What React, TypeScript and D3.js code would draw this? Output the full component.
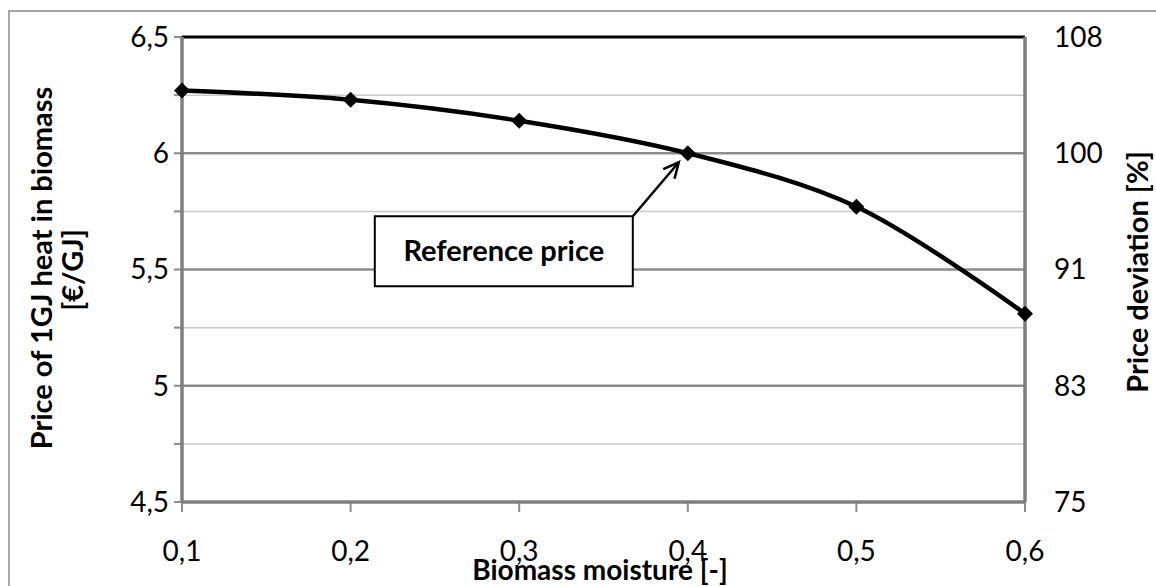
import React from 'react';
import * as d3 from 'd3';

const moisture = [0.1, 0.2, 0.3, 0.4, 0.5, 0.6];
const price = [6.27, 6.23, 6.14, 6.0, 5.77, 5.31];
const leftTicks = [4.5, 5, 5.5, 6, 6.5];
const minorTicks = [4.75, 5.25, 5.75, 6.25];
const rightTickLabels = ['75', '83', '91', '100', '108'];
const xTickLabels = ['0,1', '0,2', '0,3', '0,4', '0,5', '0,6'];

const W = 1156;
const H = 586;
const FONT = 'Lato, "Open Sans", sans-serif';

export default function App() {
  const x = d3.scaleLinear().domain([0.1, 0.6]).range([182, 1025]);
  const y = d3.scaleLinear().domain([4.5, 6.5]).range([502, 37]);

  const line = d3
    .line<number>()
    .x((_, i) => x(moisture[i]))
    .y((d) => y(d))
    .curve(d3.curveCatmullRom.alpha(0.5));

  const fmt = (v: number) => String(v).replace('.', ',');

  // annotation box + arrow anchored to the reference point (0.4, 6.0)
  const refX = x(0.4);
  const refY = y(6.0);
  const box = { x0: refX - 313, x1: refX - 55, y0: refY + 63, y1: refY + 133 };
  const arrowEnd = { x: refX - 9, y: refY + 9 };
  const ang = Math.atan2(arrowEnd.y - box.y0, arrowEnd.x - box.x1);
  const headLen = 17;
  const headA = 0.45;

  return (
    <svg
      width={W}
      height={H}
      style={{ position: 'absolute', left: 0, top: 0, background: '#fff' }}
      fontFamily={FONT}
    >
      <rect x={9} y={11} width={W + 10} height={H + 10} fill="#fff" stroke="#a6a6a6" strokeWidth={2} />

      {/* minor grid */}
      {minorTicks.map((t) => (
        <line key={`m${t}`} x1={x(0.1)} x2={x(0.6)} y1={y(t)} y2={y(t)} stroke="#c8c8c8" strokeWidth={1.5} />
      ))}
      {/* major grid */}
      {leftTicks.slice(1, -1).map((t) => (
        <line key={`g${t}`} x1={x(0.1)} x2={x(0.6)} y1={y(t)} y2={y(t)} stroke="#8c8c8c" strokeWidth={2.5} />
      ))}

      {/* left tick marks */}
      {leftTicks.concat(minorTicks).map((t) => (
        <line key={`lt${t}`} x1={x(0.1) - 8} x2={x(0.1)} y1={y(t)} y2={y(t)} stroke="#8c8c8c" strokeWidth={2} />
      ))}
      {/* bottom tick marks */}
      {moisture.map((m) => (
        <line key={`bt${m}`} x1={x(m)} x2={x(m)} y1={y(4.5)} y2={y(4.5) + 10} stroke="#8c8c8c" strokeWidth={2} />
      ))}

      {/* frame */}
      <line x1={x(0.1)} x2={x(0.6)} y1={y(6.5)} y2={y(6.5)} stroke="#000" strokeWidth={3} />
      <line x1={x(0.1)} x2={x(0.1)} y1={y(6.5)} y2={y(4.5)} stroke="#7f7f7f" strokeWidth={3.5} />
      <line x1={x(0.6)} x2={x(0.6)} y1={y(6.5)} y2={y(4.5)} stroke="#7f7f7f" strokeWidth={3.5} />
      <line x1={x(0.1)} x2={x(0.6)} y1={y(4.5)} y2={y(4.5)} stroke="#7f7f7f" strokeWidth={3.5} />

      {/* left tick labels */}
      {leftTicks.map((t) => (
        <text key={`ll${t}`} x={x(0.1) - 13} y={y(t)} dy="0.35em" textAnchor="end" fontSize={28} fill="#000">
          {fmt(t)}
        </text>
      ))}
      {/* right tick labels */}
      {leftTicks.map((t, i) => (
        <text key={`rl${t}`} x={x(0.6) + 29} y={y(t)} dy="0.35em" textAnchor="start" fontSize={28} fill="#000">
          {rightTickLabels[i]}
        </text>
      ))}
      {/* x tick labels */}
      {moisture.map((m, i) => (
        <text key={`xl${m}`} x={x(m)} y={551} dy="0.35em" textAnchor="middle" fontSize={28} fill="#000">
          {xTickLabels[i]}
        </text>
      ))}

      {/* axis titles */}
      <text x={600} y={570} dy="0.35em" textAnchor="middle" fontSize={28} fontWeight="bold" fill="#000">
        Biomass moisture [-]
      </text>
      <text transform="translate(42,268) rotate(-90)" dy="0.35em" textAnchor="middle" fontSize={29} fontWeight="bold" fill="#000">
        Price of 1GJ heat in biomass
      </text>
      <text transform="translate(73,270) rotate(-90)" dy="0.35em" textAnchor="middle" fontSize={29} fontWeight="bold" fill="#000">
        [€/GJ]
      </text>
      <text transform="translate(1138,272) rotate(-90)" dy="0.35em" textAnchor="middle" fontSize={29} fontWeight="bold" fill="#000">
        Price deviation [%]
      </text>

      {/* series */}
      <path d={line(price) ?? ''} fill="none" stroke="#000" strokeWidth={4.5} strokeLinejoin="round" />
      {price.map((p, i) => (
        <path
          key={`mk${i}`}
          transform={`translate(${x(moisture[i])},${y(p)})`}
          d="M0,-8L8,0L0,8L-8,0Z"
          fill="#000"
        />
      ))}

      {/* annotation */}
      <line x1={box.x1} y1={box.y0} x2={arrowEnd.x} y2={arrowEnd.y} stroke="#000" strokeWidth={2.5} />
      <path
        d={`M${arrowEnd.x - headLen * Math.cos(ang - headA)},${arrowEnd.y - headLen * Math.sin(ang - headA)}L${arrowEnd.x},${arrowEnd.y}L${arrowEnd.x - headLen * Math.cos(ang + headA)},${arrowEnd.y - headLen * Math.sin(ang + headA)}`}
        fill="none"
        stroke="#000"
        strokeWidth={2.5}
        strokeLinejoin="miter"
      />
      <rect x={box.x0} y={box.y0} width={box.x1 - box.x0} height={box.y1 - box.y0} fill="#fff" stroke="#000" strokeWidth={2} />
      <text x={(box.x0 + box.x1) / 2} y={(box.y0 + box.y1) / 2} dy="0.35em" textAnchor="middle" fontSize={29} fontWeight="bold" fill="#000">
        Reference price
      </text>
    </svg>
  );
}
